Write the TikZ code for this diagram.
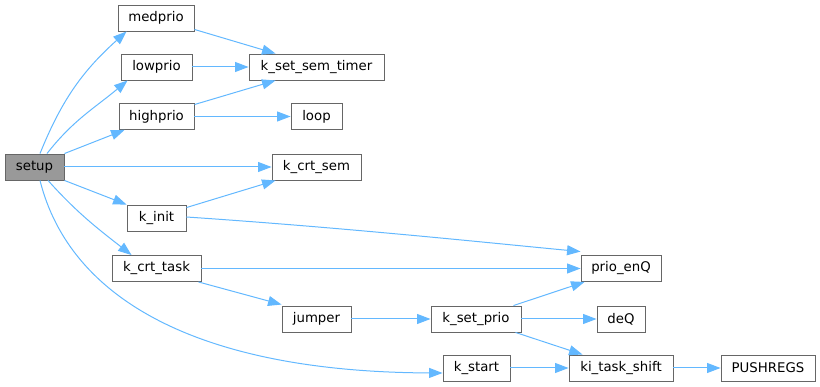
\documentclass[tikz,border=0pt]{standalone}
\usepackage{fontspec}
\setmainfont{DejaVu Sans}
\usetikzlibrary{arrows.meta,calc}
\definecolor{edgeblue}{HTML}{63B8FF}
\definecolor{boxgray}{HTML}{666666}
\definecolor{fillgray}{HTML}{999999}
\begin{document}
\begin{tikzpicture}[x=1pt,y=-1pt,
  fn/.style={draw=boxgray,line width=0.9pt,fill=white,inner sep=0pt,minimum height=26pt,
    font=\fontsize{13.3}{15}\selectfont,text=black},
  cur/.style={fn,fill=fillgray},
  call/.style={draw=edgeblue,line width=1pt,-{Triangle[length=13.5pt,width=10pt]}}]
\useasboundingbox (0,0) rectangle (820,387);
% nodes
\node[cur,minimum width=59pt] (setup) at (34.5,167) {setup};
\node[fn,minimum width=76pt] (medprio) at (156,18) {medprio};
\node[fn,minimum width=71pt] (lowprio) at (156.5,67) {lowprio};
\node[fn,minimum width=75pt] (highprio) at (156.5,116.5) {highprio};
\node[fn,minimum width=135pt] (ksst) at (316.5,67) {k\_set\_sem\_timer};
\node[fn,minimum width=51pt] (loop) at (316.5,116.5) {loop};
\node[fn,minimum width=89pt] (kcs) at (316.5,167) {k\_crt\_sem};
\node[fn,minimum width=59pt] (kinit) at (156.5,218) {k\_init};
\node[fn,minimum width=89pt] (kct) at (156.5,268.5) {k\_crt\_task};
\node[fn,minimum width=80pt] (penq) at (621,268.5) {prio\_enQ};
\node[fn,minimum width=69pt] (jumper) at (316.5,319) {jumper};
\node[fn,minimum width=90pt] (ksp) at (476,319) {k\_set\_prio};
\node[fn,minimum width=48pt] (deq) at (621,319) {deQ};
\node[fn,minimum width=67pt] (kstart) at (476.5,368) {k\_start};
\node[fn,minimum width=104pt] (kts) at (621,368) {ki\_task\_shift};
\node[fn,minimum width=94pt] (push) at (768,368) {PUSHREGS};
% edges
\draw[call] ([xshift=5.5pt]setup.north) to[out=68,in=-138] ([xshift=9pt]medprio.south west);
\draw[call] ([xshift=12.5pt]setup.north) to[out=52,in=-140] ([xshift=7pt]lowprio.south west);
\draw[call] (setup.north east) -- ([xshift=6pt]highprio.south west);
\draw[call] (setup.east) -- (kcs.west);
\draw[call] (setup.south east) -- (kinit.north west);
\draw[call] ([xshift=13.5pt]setup.south) to[out=-48,in=142] ([xshift=20pt]kct.north west);
\draw[call] ([xshift=5.5pt]setup.south) .. controls (70,300) and (200,372) .. ([yshift=-5pt]kstart.west);
\draw[call] ([yshift=2pt]medprio.south east) -- ([xshift=27pt]ksst.north west);
\draw[call] (lowprio.east) -- (ksst.west);
\draw[call] ([yshift=-1.5pt]highprio.north east) -- ([xshift=27pt]ksst.south west);
\draw[call] (highprio.east) -- (loop.west);
\draw[call] ([yshift=-3pt]kinit.north east) -- ([xshift=4pt]kcs.south west);
\draw[call] ([yshift=1pt]kinit.east) .. controls (350,228) and (500,244) .. ([yshift=3.5pt]penq.north west);
\draw[call] (kct.east) -- (penq.west);
\draw[call] ([xshift=-3pt]kct.south east) -- ([yshift=1pt]jumper.north west);
\draw[call] (jumper.east) -- (ksp.west);
\draw[call] ([xshift=-8pt]ksp.north east) -- ([xshift=4pt]penq.south west);
\draw[call] (ksp.east) -- (deq.west);
\draw[call] ([xshift=-6pt]ksp.south east) -- ([xshift=14pt]kts.north west);
\draw[call] (kstart.east) -- (kts.west);
\draw[call] (kts.east) -- (push.west);
\end{tikzpicture}
\end{document}
